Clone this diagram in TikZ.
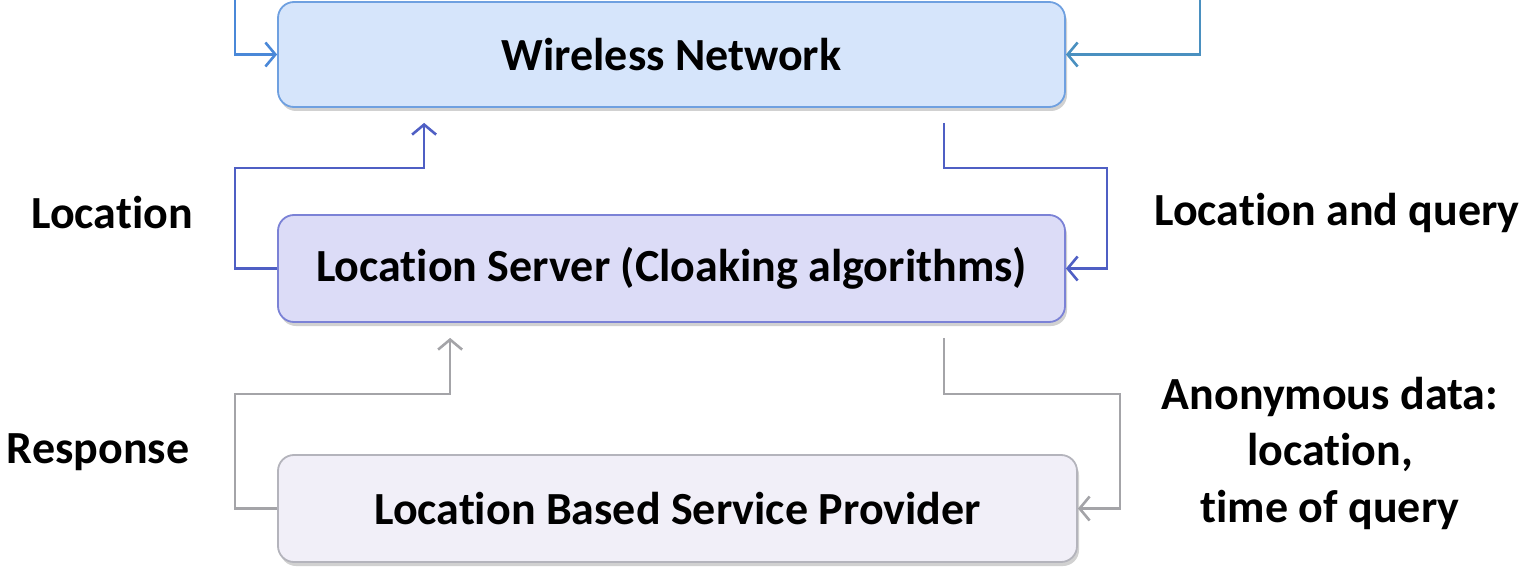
\documentclass[tikz,border=0pt]{standalone}
\usepackage{fontspec}
\setmainfont{Carlito}[Ligatures=NoCommon]
\usetikzlibrary{arrows.meta,shadows,calc}
\definecolor{wnfill}{HTML}{D6E5FB}
\definecolor{wnline}{HTML}{6FA0E0}
\definecolor{lsfill}{HTML}{DCDCF7}
\definecolor{lsline}{HTML}{7B82D6}
\definecolor{lbfill}{HTML}{F1EFF8}
\definecolor{lbline}{HTML}{B4B4BC}
\definecolor{topblue}{HTML}{4A88D8}
\definecolor{topteal}{HTML}{4A90C0}
\definecolor{midblue}{HTML}{4F5FC4}
\definecolor{lowgray}{HTML}{A4A4A8}
\tikzset{
  boxstyle/.style={draw, line width=1.8bp, rounded corners=16bp, font=\fontsize{46bp}{56bp}\selectfont\bfseries,
    inner sep=0pt, drop shadow={shadow xshift=2bp, shadow yshift=-4bp, opacity=0.3, fill=black!60}},
  lbl/.style={font=\fontsize{46bp}{56.5bp}\selectfont\bfseries, align=center, inner sep=0pt},
  conn/.style={line width=2.6bp, -{Straight Barb[length=10bp,width=24bp,line width=2.6bp]}},
}
\begin{document}
\begin{tikzpicture}[x=1bp,y=-1bp]
\useasboundingbox (0,0) rectangle (1538,568);
\node[boxstyle, fill=wnfill, draw=wnline, minimum width=787bp, minimum height=105bp] (wn) at (671.5,54.5) {Wireless Network};
\node[boxstyle, fill=lsfill, draw=lsline, minimum width=787bp, minimum height=107bp] (ls) at (671.5,268.5) {Location Server (Cloaking algorithms)};
\node[boxstyle, fill=lbfill, draw=lbline, minimum width=799bp, minimum height=107bp] (lbs) at (677.5,508.5) {Location Based Service Provider};

\node[lbl] (tloc) at (112,213) {Location};
\node[lbl] (tlq) at (1337,213) {Location and query};
\node[lbl] (tresp) at (98,452) {Response};
\node[lbl] (tanon) at (1330,453) {Anonymous data:\\location,\\time of query};

% incoming connectors from outside the picture
\coordinate (topL) at (235,-5);
\coordinate (topR) at (1200,-5);
\draw[conn, draw=topblue] (topL) |- (wn.west);
\draw[conn, draw=topteal] (topR) |- (wn.east);

% Location Server -> Wireless Network
\coordinate (a1) at ($(wn.south west)+(147,15)$);
\draw[conn, draw=midblue] (ls.west) -- (235,268.5) -- (235,168) -- (a1 |- 0,168) -- (a1);
% Wireless Network -> Location Server
\coordinate (b1) at ($(wn.south west)+(667,15)$);
\draw[conn, draw=midblue] (b1) -- (b1 |- 0,168) -- (1107,168) |- (ls.east);

% LBS -> Location Server
\coordinate (c1) at ($(ls.south west)+(173,15)$);
\draw[conn, draw=lowgray] (lbs.west) -- (235,508.5) -- (235,394) -- (c1 |- 0,394) -- (c1);
% Location Server -> LBS
\coordinate (d1) at ($(ls.south west)+(667,15)$);
\draw[conn, draw=lowgray] (d1) -- (d1 |- 0,394) -- (1120,394) |- (lbs.east);
\end{tikzpicture}
\end{document}
